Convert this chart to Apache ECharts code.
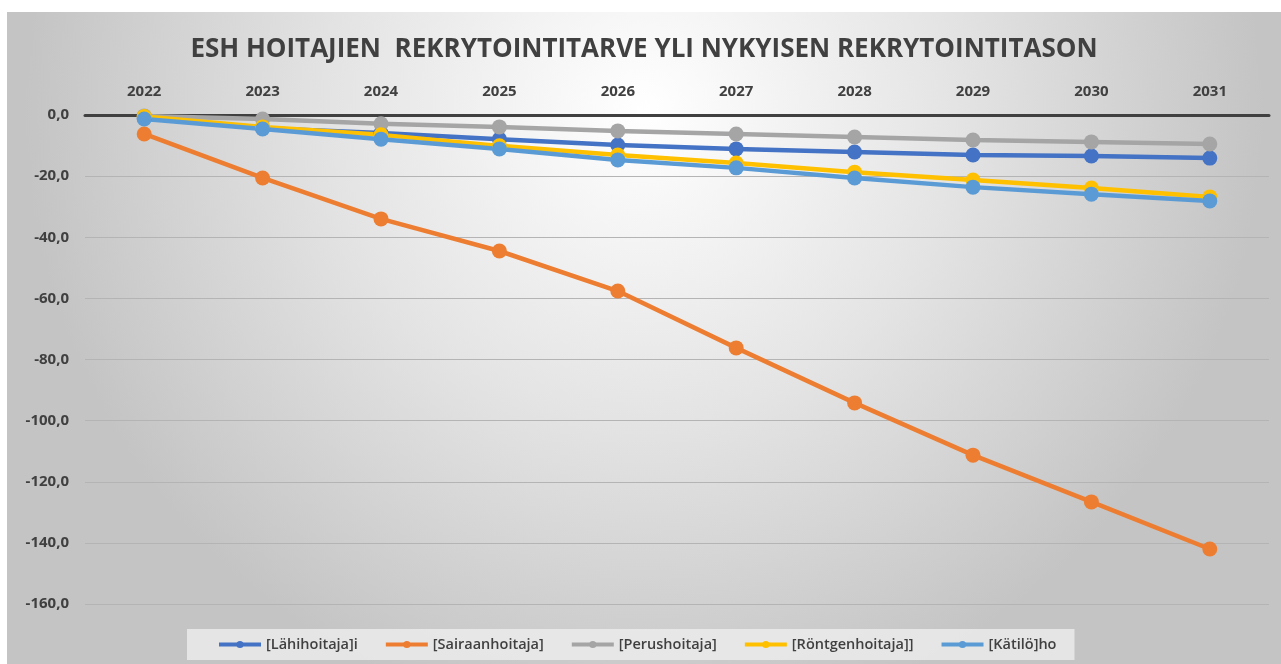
<!DOCTYPE html>
<html>
<head>
<meta charset="utf-8">
<script src="https://cdn.jsdelivr.net/npm/echarts@6/dist/echarts.min.js"></script>
<style>
	html, body { margin: 0; padding: 0; background: #fff; }
	#main { position: absolute; left: 7px; top: 12px; width: 1274px; height: 652px; }
</style>
</head>
<body>
<div id="main"></div>
<script>
	var years = ['2022', '2023', '2024', '2025', '2026', '2027', '2028', '2029', '2030', '2031'];
	var lahihoitaja = [-1.0, -4.3, -5.9, -7.9, -9.8, -11.1, -12.1, -13.1, -13.4, -14.1];
	var sairaanhoitaja = [-6.2, -20.6, -34.0, -44.5, -57.6, -76.2, -94.2, -111.3, -126.6, -142.0];
	var perushoitaja = [-0.3, -1.3, -2.9, -3.9, -5.2, -6.2, -7.2, -8.2, -8.8, -9.5];
	var rontgenhoitaja = [-0.5, -3.9, -6.5, -10.1, -13.1, -15.7, -18.7, -21.3, -23.9, -26.8];
	var katilo = [-1.3, -4.6, -7.9, -11.1, -14.7, -17.3, -20.6, -23.6, -25.9, -28.1];

	var seriesNames = ['[Lähihoitaja]i', '[Sairaanhoitaja]', '[Perushoitaja]', '[Röntgenhoitaja]]', '[Kätilö]ho'];
	var colors = ['#4472C4', '#ED7D31', '#A5A5A5', '#FFC000', '#5B9BD5'];
	var values = [lahihoitaja, sairaanhoitaja, perushoitaja, rontgenhoitaja, katilo];

	var font = '"Open Sans", "Liberation Sans", sans-serif';

	function makeSeries(name, data, color) {
		return {
			name: name,
			type: 'line',
			data: data,
			symbol: 'circle',
			symbolSize: 15,
			lineStyle: { width: 4.5, color: color },
			itemStyle: { color: color }
		};
	}

	var chart = echarts.init(document.getElementById('main'));
	chart.setOption({
		backgroundColor: {
			type: 'radial',
			x: 0.5, y: 0.15, r: 0.95,
			colorStops: [
				{ offset: 0, color: '#ffffff' },
				{ offset: 0.5, color: '#e4e4e4' },
				{ offset: 1, color: '#c4c4c4' }
			]
		},
		color: colors,
		title: {
			text: 'ESH HOITAJIEN  REKRYTOINTITARVE YLI NYKYISEN REKRYTOINTITASON',
			left: 'center',
			top: 20,
			textStyle: { fontFamily: font, fontSize: 26, fontWeight: 'bold', color: '#404040' }
		},
		legend: {
			bottom: 4,
			left: 180,
			itemWidth: 42,
			itemHeight: 9,
			itemGap: 26,
			padding: [8, 18, 8, 30],
			backgroundColor: 'rgba(238,238,238,0.8)',
			lineStyle: { width: 4 },
			textStyle: { fontFamily: font, fontSize: 14.5, fontWeight: 600, color: '#404040' },
			data: seriesNames
		},
		grid: { left: 78, right: 12, top: 103, bottom: 60 },
		xAxis: {
			type: 'category',
			position: 'top',
			data: years,
			axisLine: { onZero: true, lineStyle: { color: '#404040', width: 3 } },
			axisTick: { show: false },
			axisLabel: { fontFamily: font, fontSize: 15, fontWeight: 'bold', color: '#404040', margin: 16 }
		},
		yAxis: {
			type: 'value',
			min: -160,
			max: 0,
			interval: 20,
			axisLine: { show: false },
			axisTick: { show: false },
			splitLine: { lineStyle: { color: '#b4b4b4', width: 1 } },
			axisLabel: {
				fontFamily: font, fontSize: 15, fontWeight: 'bold', color: '#404040', margin: 16,
				formatter: function (v) { return v.toFixed(1).replace('.', ','); }
			}
		},
		series: values.map(function (d, i) { return makeSeries(seriesNames[i], d, colors[i]); })
	});
</script>
</body>
</html>
